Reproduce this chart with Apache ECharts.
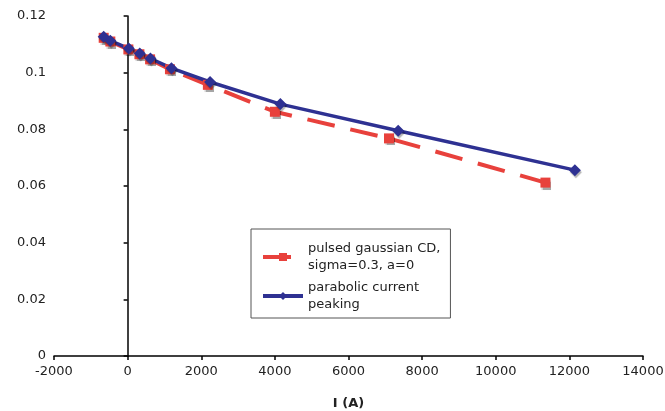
<!DOCTYPE html>
<html><head><meta charset="utf-8">
<script src="https://cdn.jsdelivr.net/npm/echarts@6/dist/echarts.min.js"></script>
<style>html,body{margin:0;padding:0;background:#fff}#c{width:665px;height:411px}</style>
</head><body><div id="c"></div>
<script>
const xTicks = [-2000, 0, 2000, 4000, 6000, 8000, 10000, 12000, 14000];
const yTicks = [0, 0.02, 0.04, 0.06, 0.08, 0.1, 0.12];
const gaussX = [-650, -470, 20, 320, 610, 1150, 2180, 4000, 7100, 11350];
const gaussY = [0.1123, 0.1110, 0.1082, 0.1065, 0.1047, 0.1012, 0.0957, 0.0862, 0.0768, 0.0612];
const paraX = [-650, -470, 30, 330, 620, 1190, 2240, 4150, 7350, 12150];
const paraY = [0.1127, 0.1113, 0.1085, 0.1068, 0.1050, 0.1016, 0.0967, 0.0889, 0.0795, 0.0656];
const names = ["pulsed gaussian CD,\nsigma=0.3, a=0", "parabolic current\npeaking"];

const font = "Verdana, 'DejaVu Sans', sans-serif";
const chart = echarts.init(document.getElementById('c'), null, {renderer: 'canvas'});
const zip = (xs, ys) => xs.map((x, i) => [x, ys[i]]);
chart.setOption({
  animation: false,
  grid: {left: 54, right: 22, top: 16, bottom: 55, containLabel: false, outerBoundsMode: 'none'},
  xAxis: {
    type: 'value', min: xTicks[0], max: xTicks[xTicks.length - 1], interval: 2000,
    name: 'I (A)', nameLocation: 'middle', nameGap: 41,
    nameTextStyle: {fontFamily: font, fontWeight: 'bold', fontSize: 13, color: '#222'},
    axisLine: {lineStyle: {color: '#000', width: 1.5}},
    axisTick: {show: true, length: 4, lineStyle: {color: '#000', width: 1.5}},
    axisLabel: {fontFamily: font, fontSize: 13, color: '#222', margin: 9, formatter: v => String(v)},
    splitLine: {show: false}
  },
  yAxis: {
    type: 'value', min: 0, max: 0.12, interval: 0.02,
    name: '2/1 width', nameLocation: 'middle', nameGap: 102,
    nameTextStyle: {fontFamily: font, fontWeight: 'bold', fontSize: 13, color: '#222'},
    axisLine: {onZero: true, lineStyle: {color: '#000', width: 1.5}},
    axisTick: {show: true, length: 4, lineStyle: {color: '#000', width: 1.5}},
    axisLabel: {fontFamily: font, fontSize: 13, color: '#222', margin: 8,
      formatter: v => String(Math.round(v * 100) / 100)},
    splitLine: {show: false}
  },
  legend: {
    orient: 'vertical', left: 251, top: 229, width: 196,
    borderColor: '#555', borderWidth: 1, padding: [11, 10, 5, 10],
    itemWidth: 40, itemHeight: 10, itemGap: 5,
    lineStyle: {width: 4},
    textStyle: {fontFamily: font, fontSize: 13, color: '#222', lineHeight: 17},
    data: [names[0], names[1]]
  },
  series: [
    {
      name: names[0], type: 'line', data: zip(gaussX, gaussY),
      symbol: 'rect', symbolSize: 10,
      itemStyle: {color: '#E8413C', shadowColor: 'rgba(0,0,0,0.35)', shadowOffsetX: 1, shadowOffsetY: 2, shadowBlur: 1},
      lineStyle: {color: '#E8413C', width: 4, type: [28, 16]}
    },
    {
      name: names[1], type: 'line', data: zip(paraX, paraY),
      symbol: 'diamond', symbolSize: 12,
      itemStyle: {color: '#2E3192', shadowColor: 'rgba(0,0,0,0.3)', shadowOffsetX: 1, shadowOffsetY: 2, shadowBlur: 1},
      lineStyle: {color: '#2E3192', width: 3.5}
    }
  ]
});
</script></body></html>
